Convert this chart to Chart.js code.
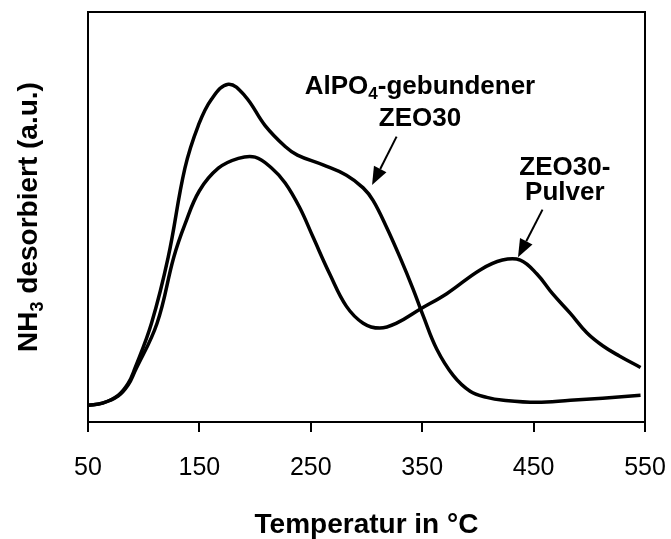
<!DOCTYPE html>
<html>
<head>
<meta charset="utf-8">
<script src="https://cdn.jsdelivr.net/npm/chart.js@4.4.1/dist/chart.umd.min.js"></script>
<style>
  body { margin: 0; background: #fff; }
  #wrap { width: 671px; height: 539px; }
</style>
</head>
<body>
<div id="wrap"><canvas id="tpdChart" width="671" height="539"></canvas></div>
<script>
// --- Daten ---
const xTicks = [50, 150, 250, 350, 450, 550];

// AlPO4-gebundener ZEO30
const tempAlpo = [50, 63, 77, 86, 92, 107, 122, 137, 149, 161, 176, 191, 209, 227, 238, 261, 282, 297, 306, 318, 330, 342, 351, 363, 378, 393, 408, 423, 453, 483, 512, 546];
const valAlpo  = [4.1, 4.6, 6.5, 9.4, 13.0, 24.1, 40.2, 61.9, 72.3, 78.8, 82.4, 79.5, 72.3, 67.2, 65.1, 62.7, 60.2, 57.1, 54.0, 47.5, 40.2, 32.3, 25.8, 17.8, 11.3, 7.5, 6.0, 5.3, 4.8, 5.3, 5.8, 6.5];

// ZEO30-Pulver
const tempPulver = [50, 63, 77, 86, 92, 112, 127, 137, 150, 167, 185, 200, 215, 227, 240, 252, 267, 282, 297, 312, 327, 348, 372, 402, 422, 438, 453, 467, 483, 498, 512, 527, 546];
const valPulver  = [4.1, 4.6, 6.3, 9.0, 12.3, 24.1, 40.2, 48.2, 56.4, 61.9, 64.3, 64.6, 61.9, 58.3, 52.3, 45.1, 36.1, 28.2, 24.1, 22.9, 24.1, 27.5, 31.3, 37.1, 39.5, 39.5, 36.1, 31.3, 26.5, 21.7, 18.6, 16.1, 13.3];

// Beschriftungen mit Pfeil (in Datenkoordinaten)
const notes = [
    { lines: [[{ t: 'AlPO' }, { t: '4', sub: true }, { t: '-gebundener' }], [{ t: 'ZEO30' }]],
      x: 348, y: [80.0, 72.3], from: [327, 69.6], to: [305, 57.8] },
    { lines: [[{ t: 'ZEO30-' }], [{ t: 'Pulver' }]],
      x: 478, y: [60.2, 54.2], from: [458, 51.8], to: [436, 40.2] }
];

const FONT = '"Liberation Sans", Arial, sans-serif';

function toPoints(xs, ys) {
    return xs.map((x, i) => ({ x: x, y: ys[i] }));
}

// Text mit Tiefstellung zentriert zeichnen
function drawRich(ctx, parts, x, y, size) {
    const big = `bold ${size}px ${FONT}`;
    const small = `bold ${Math.round(size * 0.65)}px ${FONT}`;
    let total = 0;
    parts.forEach(p => { ctx.font = p.sub ? small : big; total += ctx.measureText(p.t).width; });
    let cx = x - total / 2;
    ctx.textAlign = 'left';
    ctx.textBaseline = 'alphabetic';
    parts.forEach(p => {
        ctx.font = p.sub ? small : big;
        ctx.fillText(p.t, cx, p.sub ? y + size * 0.2 : y);
        cx += ctx.measureText(p.t).width;
    });
}

function drawArrow(ctx, x1, y1, x2, y2) {
    const ang = Math.atan2(y2 - y1, x2 - x1);
    const len = 18, half = 7;
    const bx = x2 - len * Math.cos(ang), by = y2 - len * Math.sin(ang);
    ctx.lineWidth = 2;
    ctx.beginPath();
    ctx.moveTo(x1, y1);
    ctx.lineTo(bx, by);
    ctx.stroke();
    ctx.beginPath();
    ctx.moveTo(x2, y2);
    ctx.lineTo(bx + half * Math.sin(ang), by - half * Math.cos(ang));
    ctx.lineTo(bx - half * Math.sin(ang), by + half * Math.cos(ang));
    ctx.closePath();
    ctx.fill();
}

const framePlugin = {
    id: 'frame',
    afterDraw(chart) {
        const { ctx, chartArea: a, scales } = chart;
        ctx.save();
        ctx.strokeStyle = '#000';
        ctx.fillStyle = '#000';
        ctx.lineWidth = 2;
        ctx.strokeRect(a.left, a.top, a.right - a.left, a.bottom - a.top);

        // Achsentitel
        ctx.font = `bold 28px ${FONT}`;
        ctx.textAlign = 'center';
        ctx.textBaseline = 'alphabetic';
        ctx.fillText('Temperatur in °C', (a.left + a.right) / 2, 533);

        ctx.save();
        ctx.translate(37, (a.top + a.bottom) / 2);
        ctx.rotate(-Math.PI / 2);
        drawRich(ctx, [{ t: 'NH' }, { t: '3', sub: true }, { t: ' desorbiert (a.u.)' }], 0, 0, 28);
        ctx.restore();

        // Anmerkungen
        notes.forEach(n => {
            const px = scales.x.getPixelForValue(n.x);
            n.lines.forEach((ln, i) => drawRich(ctx, ln, px, scales.y.getPixelForValue(n.y[i]), 26));
            drawArrow(ctx,
                scales.x.getPixelForValue(n.from[0]), scales.y.getPixelForValue(n.from[1]),
                scales.x.getPixelForValue(n.to[0]), scales.y.getPixelForValue(n.to[1]));
        });
        ctx.restore();
    }
};

const lineStyle = {
    borderColor: '#000',
    borderWidth: 3.5,
    pointRadius: 0,
    showLine: true,
    fill: false,
    tension: 0.4
};

new Chart(document.getElementById('tpdChart').getContext('2d'), {
    type: 'scatter',
    data: {
        datasets: [
            Object.assign({ label: 'AlPO4-gebundener ZEO30', data: toPoints(tempAlpo, valAlpo) }, lineStyle),
            Object.assign({ label: 'ZEO30-Pulver', data: toPoints(tempPulver, valPulver) }, lineStyle)
        ]
    },
    options: {
        responsive: false,
        animation: false,
        layout: { padding: { left: 88, right: 26, top: 12, bottom: 35 } },
        plugins: { legend: { display: false }, tooltip: { enabled: false } },
        scales: {
            x: {
                type: 'linear',
                min: 50,
                max: 550,
                afterBuildTicks: (scale) => { scale.ticks = xTicks.map(v => ({ value: v })); },
                afterFit: (scale) => { scale.paddingLeft = 0; scale.paddingRight = 0; },
                ticks: { color: '#000', font: { family: FONT, size: 25 }, padding: 21, maxRotation: 0 },
                grid: { drawOnChartArea: false, drawTicks: true, tickLength: 10, color: '#000', lineWidth: 2 },
                border: { display: true, color: '#000', width: 2 }
            },
            y: {
                display: false,
                min: 0,
                max: 100
            }
        }
    },
    plugins: [framePlugin]
});
</script>
</body>
</html>
